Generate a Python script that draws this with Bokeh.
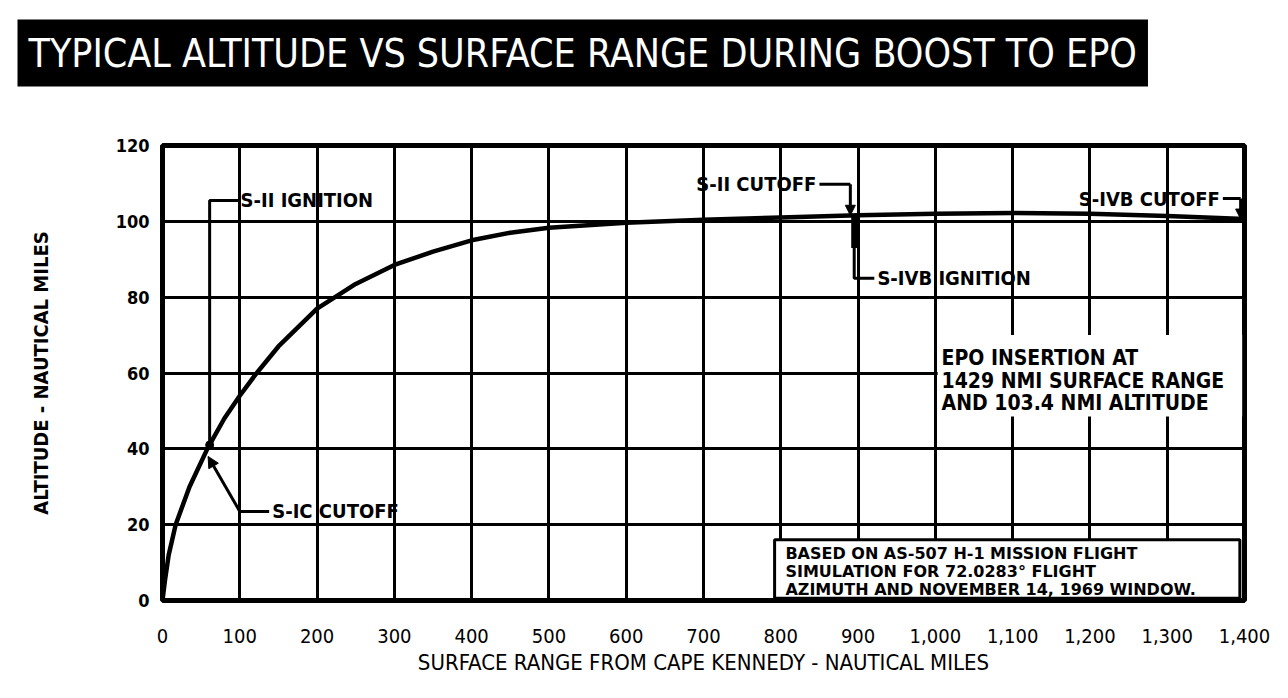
from bokeh.plotting import figure
from bokeh.models import (Label, BoxAnnotation, Arrow, NormalHead,
                          NumeralTickFormatter, FixedTicker, Range1d, Title)
from bokeh.embed import file_html
from bokeh.resources import INLINE

# ---------------- data ----------------
range_nmi = [0, 3, 8, 17, 35, 58, 80, 100, 120, 150, 200, 250, 300, 350,
             400, 450, 500, 600, 700, 800, 900, 1000, 1100, 1200, 1300, 1400]
altitude_nmi = [0, 5, 12, 20, 30, 40, 48, 54, 59.5, 67, 77, 83.5, 88.5, 92,
                95, 97, 98.3, 99.6, 100.4, 101, 101.6, 102, 102.2, 102, 101.4, 100.6]

x_ticks = list(range(0, 1401, 100))
y_ticks = [0, 20, 40, 60, 80, 100, 120]

event_names = ["S-IC CUTOFF", "S-II IGNITION", "S-II CUTOFF",
               "S-IVB IGNITION", "S-IVB CUTOFF"]
event_range = [57, 61, 890, 895, 1395]
event_alt = [39, 41, 101.6, 101.6, 100.6]

title_text = "TYPICAL ALTITUDE VS SURFACE RANGE DURING BOOST TO EPO"
x_label = "SURFACE RANGE FROM CAPE KENNEDY - NAUTICAL MILES"
y_label = "ALTITUDE - NAUTICAL MILES"
epo_note = ["EPO INSERTION AT", "1429 NMI SURFACE RANGE", "AND 103.4 NMI ALTITUDE"]
sim_note = ["BASED ON AS-507 H-1 MISSION FLIGHT",
            "SIMULATION FOR 72.0283\u00b0 FLIGHT",
            "AZIMUTH AND NOVEMBER 14, 1969 WINDOW."]

FONT = "DejaVu Sans Condensed"

# ---------------- figure ----------------
p = figure(frame_width=1082, frame_height=455,
           min_border_left=162, min_border_top=145,
           min_border_right=28, min_border_bottom=80,
           x_range=Range1d(0, 1400), y_range=Range1d(0, 120),
           output_backend="svg", toolbar_location=None,
           background_fill_color="white", border_fill_color="white")

p.title = Title(text=title_text, align="left",
                text_font=FONT, text_font_size="39px", text_font_style="normal",
                text_color="white", background_fill_color="black",
                background_fill_alpha=1.0, padding=11, offset=-145,
                standoff=0)
# blank spacer between the title banner and the plot frame
p.add_layout(Title(text=" ", text_font_size="44px", standoff=8,
                   text_color="white"), "above")

p.outline_line_color = "black"
p.outline_line_width = 5

# grid
p.xgrid.ticker = FixedTicker(ticks=x_ticks)
p.ygrid.ticker = FixedTicker(ticks=y_ticks)
for g in (p.xgrid, p.ygrid):
    g.grid_line_color = "black"
    g.grid_line_width = 3
    g.grid_line_alpha = 1.0

# axes
p.xaxis.ticker = FixedTicker(ticks=x_ticks)
p.yaxis.ticker = FixedTicker(ticks=y_ticks)
p.xaxis.formatter = NumeralTickFormatter(format="0,0")
for ax in (p.xaxis, p.yaxis):
    ax.axis_line_color = None
    ax.major_tick_line_color = None
    ax.minor_tick_line_color = None
    ax.major_label_text_color = "black"
    ax.major_label_text_font = FONT
    ax.axis_label_text_color = "black"
    ax.axis_label_text_font = FONT
    ax.axis_label_text_font_style = "normal"

p.xaxis.axis_label = x_label
p.xaxis.major_label_text_font_size = "20px"
p.xaxis.major_label_standoff = 22
p.xaxis.axis_label_standoff = 4
p.xaxis.axis_label_text_font_size = "22px"

p.yaxis.axis_label = y_label
p.yaxis.major_label_text_font_size = "18px"
p.yaxis.major_label_text_font_style = "bold"
p.yaxis.major_label_standoff = 7
p.yaxis.axis_label_standoff = 60
p.yaxis.axis_label_text_font_size = "20px"
p.yaxis.axis_label_text_font_style = "bold"

# ---------------- boxes over the grid ----------------
p.add_layout(BoxAnnotation(left=1003, right=1397, bottom=48.5, top=70,
                           fill_color="white", fill_alpha=1.0,
                           line_color=None, level="underlay"))
p.add_layout(BoxAnnotation(left=792, right=1394, bottom=0.6, top=16,
                           fill_color="white", fill_alpha=1.0,
                           line_color="black", line_alpha=1.0, line_width=3,
                           level="underlay"))

# ---------------- curve ----------------
p.line(range_nmi, altitude_nmi, line_color="black", line_width=4.5)

# ---------------- event leaders ----------------
lw = 3
# S-IC cutoff
r, a = event_range[0], event_alt[0]
p.line([100, 138], [23.5, 23.5], line_color="black", line_width=lw)
p.add_layout(Arrow(x_start=100, y_start=23.5, x_end=r + 2, y_end=a - 1,
                   line_width=lw, line_color="black",
                   end=NormalHead(size=11, fill_color="black", line_color="black")))
# S-II ignition
r, a = event_range[1], event_alt[1]
p.line([r, r, 98], [a, 105.5, 105.5], line_color="black", line_width=lw)
p.scatter([r], [a], size=8, color="black")
# S-II cutoff
r, a = event_range[2], event_alt[2]
p.line([850, r], [109.8, 109.8], line_color="black", line_width=lw)
p.add_layout(Arrow(x_start=r, y_start=109.8, x_end=r, y_end=a,
                   line_width=lw, line_color="black",
                   end=NormalHead(size=10, fill_color="black", line_color="black")))
# S-IVB ignition
r, a = event_range[3], event_alt[3]
p.line([r, r, 921], [a, 85, 85], line_color="black", line_width=lw)
p.line([r, r], [a, 93], line_color="black", line_width=6)
# S-IVB cutoff
r, a = event_range[4], event_alt[4]
p.line([1372, r], [106, 106], line_color="black", line_width=lw)
p.add_layout(Arrow(x_start=r, y_start=106, x_end=r, y_end=a,
                   line_width=lw, line_color="black",
                   end=NormalHead(size=10, fill_color="black", line_color="black")))

ev_label_pos = [(142, 23.5, "left"), (101, 105.5, "left"), (846, 109.8, "right"),
                (925, 85, "left"), (1368, 106, "right")]
for name, (lx, ly, al) in zip(event_names, ev_label_pos):
    p.add_layout(Label(x=lx, y=ly, text=name, text_align=al,
                       text_baseline="middle", text_font=FONT,
                       text_font_size="20px", text_font_style="bold",
                       text_color="black"))

# ---------------- notes ----------------
for i, t in enumerate(epo_note):
    p.add_layout(Label(x=1008, y=64 - 6 * i, text=t, text_align="left",
                       text_baseline="middle", text_font=FONT,
                       text_font_size="21px", text_font_style="bold",
                       text_color="black"))
for i, t in enumerate(sim_note):
    p.add_layout(Label(x=806, y=12.4 - 4.7 * i, text=t, text_align="left",
                       text_baseline="middle", text_font="DejaVu Sans",
                       text_font_size="16px", text_font_style="bold",
                       text_color="black"))

open("out.html", "w").write(file_html(p, INLINE))
